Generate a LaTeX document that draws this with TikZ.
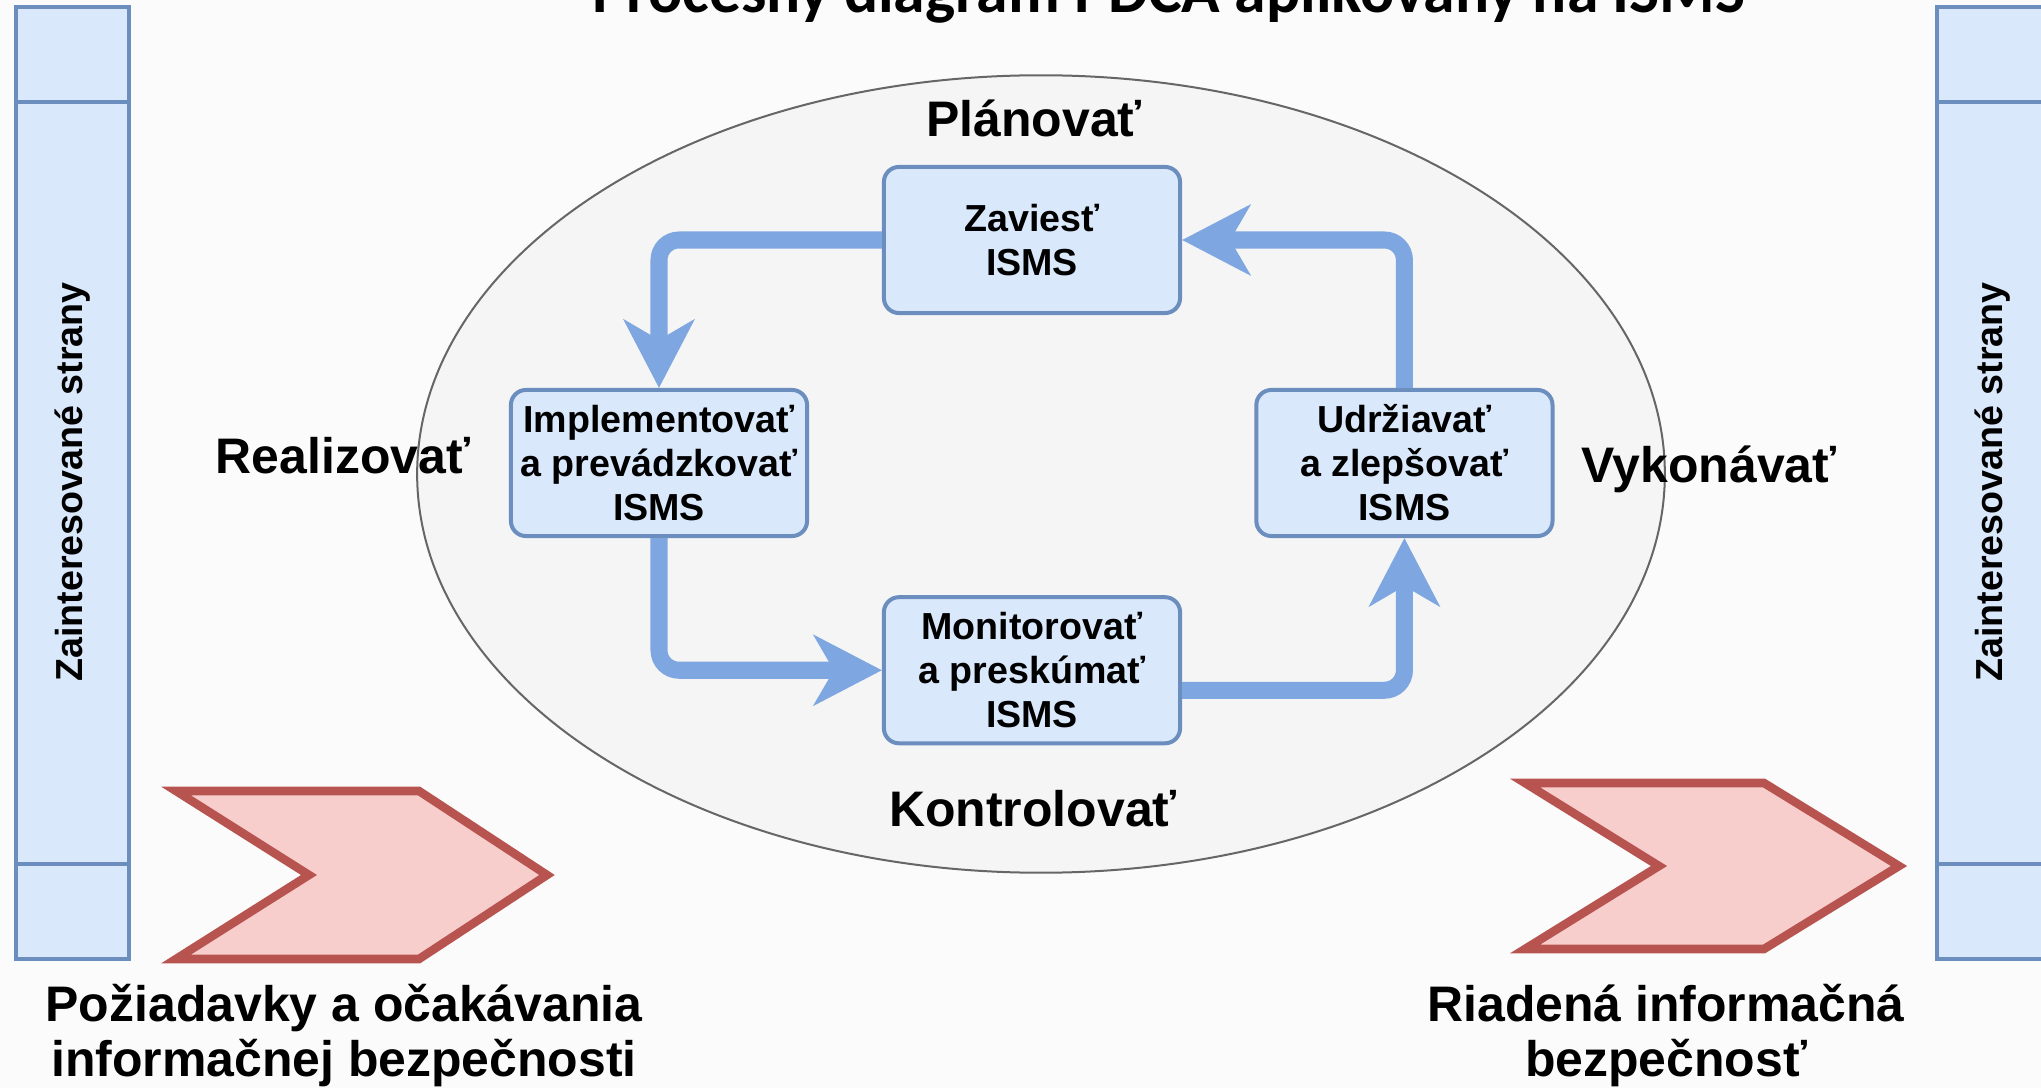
\documentclass[tikz,border=0pt]{standalone}
\usepackage{fontspec}
\setmainfont{Liberation Sans}
\newfontfamily\titlefont{Carlito}
\usetikzlibrary{positioning, arrows.meta, shapes.geometric}

\definecolor{lanefill}{HTML}{DAE8FC}
\definecolor{laneline}{HTML}{6C8EBF}
\definecolor{flowblue}{HTML}{7EA6E0}
\definecolor{chevfill}{HTML}{F8CECC}
\definecolor{chevline}{HTML}{B85450}
\definecolor{ringfill}{HTML}{F5F5F5}
\definecolor{ringline}{HTML}{666666}
\definecolor{paper}{HTML}{FBFBFB}

\begin{document}
\begin{tikzpicture}[
    x=0.01cm, y=-0.01cm,
    font=\bfseries,
    >={Stealth[length=0.68cm, width=0.70cm, inset=0.2cm]},
    phase/.style={draw=laneline, line width=0.04cm, fill=lanefill, rounded corners=0.15cm,
                  align=center, inner sep=0pt, minimum width=2.96cm, minimum height=1.46cm,
                  font=\bfseries\fontsize{10.7}{12.5}\selectfont},
    stage/.style={anchor=base, inner sep=0pt, font=\bfseries\fontsize{14.2}{15.7}\selectfont},
    lane/.style={draw=laneline, line width=0.04cm, fill=lanefill, inner sep=0pt,
                 minimum width=1.13cm, minimum height=9.52cm},
    lanetxt/.style={rotate=90, inner sep=0pt, font=\bfseries\fontsize{10.7}{12.5}\selectfont},
    chev/.style={draw=chevline, fill=chevfill, line width=0.085cm},
    io/.style={align=center, inner sep=0pt, font=\bfseries\fontsize{14.2}{15.65}\selectfont},
    flow/.style={->, draw=flowblue, line width=0.17cm, rounded corners=0.2cm},
]
\useasboundingbox (0,0) rectangle (2041,1088);
\clip (0,0) rectangle (2041,1088);
\fill[paper] (0,0) rectangle (2041,1088);

% ── title (cut by the top edge) ──────────────────────────────────────────────
\node[anchor=base, inner sep=0pt, font=\titlefont\bfseries\fontsize{18.1}{20}\selectfont] (title)
    at (1169,13) {Procesný diagram PDCA aplikovaný na ISMS};

% ── interested parties (side lanes) ──────────────────────────────────────────
\node[lane] (lbar) at (72.5,483) {};
\draw[draw=laneline, line width=0.04cm] ([yshift=-0.975cm]lbar.north west) -- ([yshift=-0.975cm]lbar.north east);
\draw[draw=laneline, line width=0.04cm] ([yshift=0.97cm]lbar.south west) -- ([yshift=0.97cm]lbar.south east);
\node[lanetxt] (ltxt) at (73,482) {Zainteresované strany};

\node[lane] (rbar) at (1993.5,483) {};
\draw[draw=laneline, line width=0.04cm] ([yshift=-0.975cm]rbar.north west) -- ([yshift=-0.975cm]rbar.north east);
\draw[draw=laneline, line width=0.04cm] ([yshift=0.97cm]rbar.south west) -- ([yshift=0.97cm]rbar.south east);
\node[lanetxt] (rtxt) at (1993,482) {Zainteresované strany};

% ── PDCA ring ────────────────────────────────────────────────────────────────
\node[ellipse, draw=ringline, fill=ringfill, line width=0.02cm, inner sep=0pt,
      minimum width=12.47cm, minimum height=7.97cm] (ring) at (1041,474) {};

\node[phase] (plan) at (1032,240) {Zaviesť\\ISMS};
\node[phase, below=2.8cm of plan] (check) {Monitorovať\\a preskúmať\\ISMS};
\node[phase] (do) at (659,463) {Implementovať\\a prevádzkovať\\ISMS};
\node[phase, right=4.45cm of do] (act) {Udržiavať\\a zlepšovať\\ISMS};

\node[stage] (plan-label) at (1034,137) {Plánovať};
\node[stage] (check-label) at (1033,827) {Kontrolovať};
\node[stage] (do-label) at (343,473) {Realizovať};
\node[stage] (act-label) at (1709,482) {Vykonávať};

% ── cycle ────────────────────────────────────────────────────────────────────
\draw[flow] (plan.west) -| (do.north);
\draw[flow] (do.south) |- (check.west);
\draw[flow] ([yshift=-0.2cm]check.east) -| (act.south);
\draw[flow] (act.north) |- (plan.east);

% ── input / output ───────────────────────────────────────────────────────────
\draw[chev] (176,791) -- (419,791) -- (547,875) -- (419,959) -- (176,959) -- (309,875) -- cycle;
\draw[chev] (1525,783) -- (1764,783) -- (1899,866) -- (1764,949) -- (1525,949) -- (1659,866) -- cycle;

\node[io] (need) at (344,1036) {Požiadavky a očakávania\\informačnej bezpečnosti};
\node[io] (result) at (1666,1036) {Riadená informačná\\bezpečnosť};

\end{tikzpicture}
\end{document}
